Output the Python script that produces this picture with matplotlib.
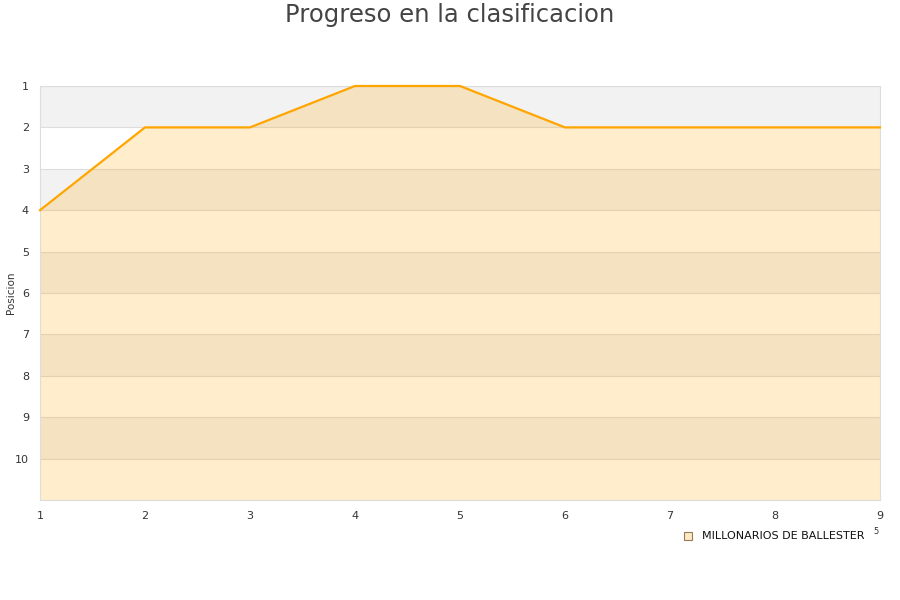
import matplotlib.pyplot as plt
import numpy as np

# Datos de la clasificacion
jornadas = [1, 2, 3, 4, 5, 6, 7, 8, 9]
posiciones = [4, 2, 2, 1, 1, 2, 2, 2, 2]
etiquetas_y = [1, 2, 3, 4, 5, 6, 7, 8, 9, 10]
equipo = "MILLONARIOS DE BALLESTER"

fig = plt.figure(figsize=(9, 6), dpi=100)
ax = fig.add_axes([40 / 900, 1 - 500 / 600, 840 / 900, 414 / 600])

# bandas alternas de fondo
for y in range(1, 11, 2):
    ax.axhspan(y, y + 1, color="#f2f2f2", zorder=0, lw=0)
for y in etiquetas_y:
    ax.axhline(y, color="#dddddd", lw=0.8, zorder=1)

ax.fill_between(jornadas, posiciones, 11, color="orange", alpha=0.2, lw=0, zorder=2)
ax.plot(jornadas, posiciones, color="orange", lw=1.6, zorder=3, clip_on=False)

ax.set_xlim(1, 9)
ax.set_ylim(11, 1)
ax.set_xticks(jornadas)
ax.set_yticks(etiquetas_y)
ax.tick_params(length=0, labelsize=8, colors="#333333", pad=8)
for s in ax.spines.values():
    s.set_color("#dddddd")
fig.text(11 / 900, 1 - 293 / 600, "Posicion", rotation=90, ha="center", va="center",
         fontsize=7.5, color="#333333")

fig.text(0.5, 1 - 15 / 600, "Progreso en la clasificacion", ha="center", va="center",
         fontsize=17.5, color="#444444")

# leyenda
fig.patches.append(plt.Rectangle((684 / 900, 1 - 540 / 600), 8 / 900, 8 / 600,
                                 transform=fig.transFigure, facecolor="#fde9c4",
                                 edgecolor="#9a7a50", lw=0.8))
fig.text(702 / 900, 1 - 536 / 600, equipo, ha="left", va="center", fontsize=8, color="#111111")
fig.text(876 / 900, 1 - 532 / 600, "5", ha="center", va="center", fontsize=6, color="#333333")

fig.savefig("out.png", dpi=100)
